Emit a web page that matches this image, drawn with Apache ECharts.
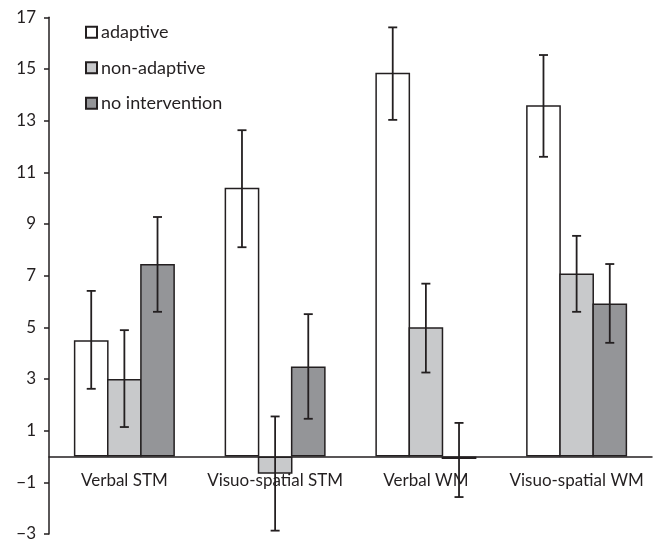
<!DOCTYPE html>
<html>
<head>
<meta charset="utf-8">
<script src="https://cdn.jsdelivr.net/npm/echarts@6/dist/echarts.min.js"></script>
<style>html,body{margin:0;padding:0;background:#fff}#c{width:658px;height:539px}</style>
</head>
<body>
<div id="c"></div>
<script>
const categories = ['Verbal STM', 'Visuo-spatial STM', 'Verbal WM', 'Visuo-spatial WM'];
const seriesNames = ['adaptive', 'non-adaptive', 'no intervention'];
const adaptive = [4.5, 10.4, 14.85, 13.6];
const nonAdaptive = [3.0, -0.67, 5.0, 7.08];
const noIntervention = [7.45, 3.48, -0.1, 5.92];
const adaptiveLow = [2.62, 8.1, 13.03, 11.6];
const adaptiveHigh = [6.41, 12.63, 16.61, 15.54];
const nonAdaptiveLow = [1.14, -2.87, 3.25, 5.6];
const nonAdaptiveHigh = [4.89, 1.55, 6.69, 8.54];
const noInterventionLow = [5.6, 1.46, -1.57, 4.4];
const noInterventionHigh = [9.27, 5.51, 1.3, 7.45];
const yTicks = [-3, -1, 1, 3, 5, 7, 9, 11, 13, 15, 17];
const yMin = -3, yMax = 17;

const ink = '#231f20';
const fills = ['#ffffff', '#c8c9cb', '#949598'];
const values = [adaptive, nonAdaptive, noIntervention];
const lows = [adaptiveLow, nonAdaptiveLow, noInterventionLow];
const highs = [adaptiveHigh, nonAdaptiveHigh, noInterventionHigh];
const catGap = 0.33;
const barGapRatio = -0.045;

const W = 658, H = 539;
const gridTop = 17.3, gridBottom = 5;
const zeroOffset = (H - gridTop - gridBottom) * (0 - yMin) / (yMax - yMin);

const barSeries = seriesNames.map((n, k) => ({
  name: n,
  type: 'bar',
  data: values[k],
  barGap: (barGapRatio * 100) + '%',
  barCategoryGap: (catGap * 100) + '%',
  itemStyle: { color: fills[k], borderColor: ink, borderWidth: 1.5 },
  z: 2
}));

const errSeries = seriesNames.map((n, k) => ({
  type: 'custom',
  name: n + ' err',
  z: 5,
  data: categories.map((c, i) => [i, lows[k][i], highs[k][i]]),
  renderItem: function (params, api) {
    const cat = api.value(0);
    const lo = api.coord([cat, api.value(1)]);
    const hi = api.coord([cat, api.value(2)]);
    const catW = api.size([1, 0])[0];
    const groupW = catW * (1 - catGap);
    const bw = groupW / (3 + 2 * barGapRatio);
    const x = lo[0] + (k - 1) * bw * (1 + barGapRatio);
    const cap = 4.5;
    const st = { stroke: ink, lineWidth: 1.8 };
    return {
      type: 'group',
      children: [
        { type: 'line', shape: { x1: x, y1: lo[1], x2: x, y2: hi[1] }, style: st },
        { type: 'line', shape: { x1: x - cap, y1: lo[1], x2: x + cap, y2: lo[1] }, style: st },
        { type: 'line', shape: { x1: x - cap, y1: hi[1], x2: x + cap, y2: hi[1] }, style: st }
      ]
    };
  }
}));

const chart = echarts.init(document.getElementById('c'));
chart.setOption({
  animation: false,
  backgroundColor: '#fff',
  textStyle: { fontFamily: 'Lato', color: ink },
  grid: { left: 49, right: 6, top: gridTop, bottom: gridBottom, containLabel: false, outerBoundsMode: 'none' },
  legend: {
    data: seriesNames,
    orient: 'vertical',
    left: 85,
    top: 23.3,
    padding: 0,
    icon: 'rect',
    itemWidth: 11,
    itemHeight: 11,
    itemGap: 17.5,
    textStyle: { fontFamily: 'Lato', fontSize: 18, color: ink, lineHeight: 18, padding: [0, 0, 0, -1] }
  },
  xAxis: {
    type: 'category',
    data: categories,
    offset: -zeroOffset,
    axisLine: { onZero: false, lineStyle: { color: ink, width: 1.5 } },
    axisTick: { show: false },
    axisLabel: { interval: 0, fontFamily: 'Lato', fontSize: 17, color: ink, margin: 16 }
  },
  yAxis: {
    type: 'value',
    min: yMin,
    max: yMax,
    interval: 1,
    splitLine: { show: false },
    axisLine: { show: true, lineStyle: { color: ink, width: 1.5 } },
    axisTick: { show: true, length: 5, customValues: yTicks, lineStyle: { color: ink, width: 1.5 } },
    axisLabel: {
      customValues: yTicks,
      fontFamily: 'Lato',
      fontSize: 17,
      color: ink,
      margin: 13,
      formatter: v => String(v).replace('-', '\u2212')
    }
  },
  series: barSeries.concat(errSeries)
});
</script>
</body>
</html>
